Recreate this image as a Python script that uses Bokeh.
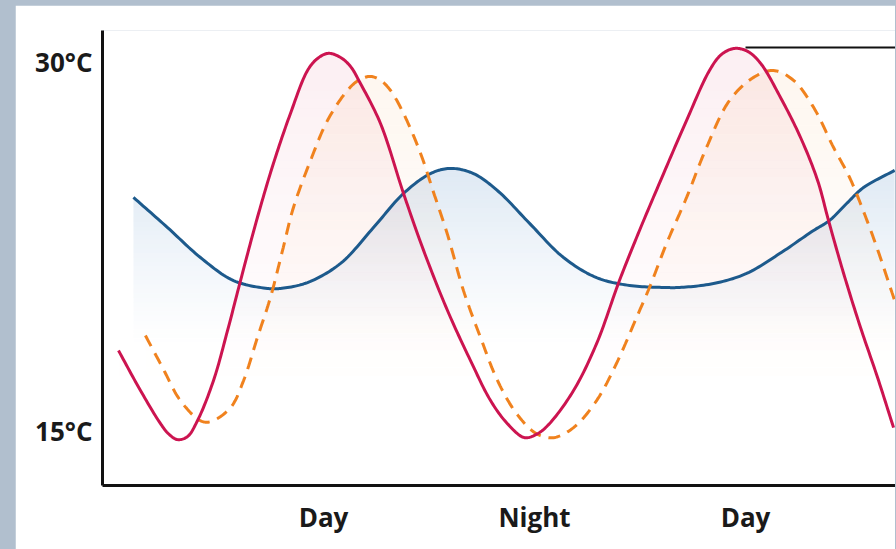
import numpy as np
from bokeh.plotting import figure
from bokeh.models import FixedTicker, Range1d, GlobalInlineStyleSheet
from bokeh.embed import file_html
from bokeh.resources import INLINE

# ---- data (hours of the cycle, temperature in degC) ----
red_h = [0.34, 1.59, 2.73, 3.18, 3.69, 4.26, 4.83, 5.74, 6.54, 7.28, 8.24, 9.15, 10.12, 11.09,
         11.66, 12.28, 12.97, 13.53, 14.10, 15.24, 16.55, 17.69, 19.05, 20.36, 21.50, 22.46,
         23.43, 24.17, 24.85, 26.22, 27.53, 28.83, 29.97, 31.34, 32.65, 33.95, 34.64, 35.38,
         36.12, 36.86, 37.99, 39.13, 40.10, 40.72, 41.58, 42.54, 43.51, 44.42]
red_T = [18.26, 16.63, 15.28, 14.87, 14.63, 14.75, 15.40, 17.03, 19.07, 21.11, 23.68, 25.88,
         27.92, 29.67, 30.16, 30.37, 30.20, 29.84, 29.14, 27.51, 24.66, 22.34, 19.89, 17.85,
         16.22, 15.28, 14.71, 14.87, 15.28, 16.63, 18.54, 21.11, 23.15, 25.47, 27.64, 29.67,
         30.33, 30.57, 30.45, 29.96, 28.57, 26.94, 25.19, 23.56, 21.40, 19.20, 17.16, 15.12]

orange_h = [1.87, 2.84, 3.86, 5.00, 5.57, 6.71, 7.45, 8.24, 8.98, 9.67, 10.29, 11.26, 12.23,
            13.36, 13.99, 14.67, 15.24, 15.81, 16.55, 17.52, 18.26, 19.05, 19.96, 20.93, 21.90,
            22.98, 24.11, 25.08, 26.22, 27.53, 28.66, 29.80, 30.54, 31.51, 32.65, 33.78, 35.09,
            36.46, 37.59, 38.73, 39.87, 41.01, 41.92, 42.71, 43.45, 44.48]
orange_T = [18.87, 17.57, 16.22, 15.40, 15.36, 15.93, 17.03, 18.79, 20.42, 22.34, 24.09, 26.00,
            27.64, 28.86, 29.27, 29.43, 29.27, 28.86, 27.92, 26.29, 24.70, 22.99, 20.70, 18.79,
            17.03, 15.69, 14.87, 14.71, 15.12, 16.22, 17.73, 19.60, 20.83, 22.62, 24.50, 26.53,
            28.45, 29.39, 29.67, 29.27, 28.17, 26.53, 25.31, 23.93, 22.50, 20.30]

blue_h = [1.19, 3.13, 5.00, 6.88, 8.81, 9.55, 11.09, 12.97, 14.84, 16.55, 18.08, 19.22, 20.53,
          21.95, 23.72, 25.65, 27.53, 29.40, 31.34, 32.25, 34.18, 36.06, 37.94, 39.87, 40.78,
          41.75, 42.71, 44.48]
blue_T = [24.50, 23.27, 22.05, 21.11, 20.79, 20.79, 21.03, 21.81, 23.27, 24.66, 25.47, 25.68,
          25.47, 24.74, 23.44, 22.05, 21.23, 20.91, 20.83, 20.83, 20.99, 21.40, 22.21, 23.15,
          23.56, 24.25, 24.90, 25.60]

# level line drawn from the second daytime maximum
peak_marker_h = [36.0, 44.53]
peak_marker_T = [30.61, 30.61]

x_ticks = [12, 24, 36]
x_labels = ["Day", "Night", "Day"]
y_ticks = [15, 30]
y_labels = ["15°C", "30°C"]

# ---- figure ----
p = figure(width=880, height=544,
           x_range=Range1d(-0.57, 44.53), y_range=Range1d(12.76, 31.30),
           output_backend="svg", toolbar_location=None,
           min_border_left=87, min_border_right=0, min_border_top=25, min_border_bottom=64)
p.stylesheets = [GlobalInlineStyleSheet(
    css="html,body{background:#b1bfce;margin:0;padding:0;overflow:hidden;}"
        "body{padding:5px 1px 0 15px;}")]
p.outline_line_color = None
p.grid.visible = False
p.background_fill_color = "white"
p.border_fill_color = "white"


def smooth_path(x, y, k=14, sx=17.6, sy=24.5):
    """Centripetal Catmull-Rom stroke through the read points (rendering only)."""
    P = np.column_stack([np.asarray(x, float) * sx, np.asarray(y, float) * sy])
    P = np.vstack([2 * P[0] - P[1], P, 2 * P[-1] - P[-2]])
    out = []
    for i in range(1, len(P) - 2):
        p0, p1, p2, p3 = P[i - 1], P[i], P[i + 1], P[i + 2]
        t0 = 0.0
        t1 = t0 + np.linalg.norm(p1 - p0) ** 0.5
        t2 = t1 + np.linalg.norm(p2 - p1) ** 0.5
        t3 = t2 + np.linalg.norm(p3 - p2) ** 0.5
        t = np.linspace(t1, t2, k, endpoint=False)[:, None]
        a1 = (t1 - t) / (t1 - t0) * p0 + (t - t0) / (t1 - t0) * p1
        a2 = (t2 - t) / (t2 - t1) * p1 + (t - t1) / (t2 - t1) * p2
        a3 = (t3 - t) / (t3 - t2) * p2 + (t - t2) / (t3 - t2) * p3
        b1 = (t2 - t) / (t2 - t0) * a1 + (t - t0) / (t2 - t0) * a2
        b2 = (t3 - t) / (t3 - t1) * a2 + (t - t1) / (t3 - t1) * a3
        out.append((t2 - t) / (t2 - t1) * b1 + (t - t1) / (t2 - t1) * b2)
    out.append(P[-2][None, :])
    C = np.vstack(out)
    return C[:, 0] / sx, C[:, 1] / sy


def gradient_fill(x, y, lo, hi, color, amax, n=40):
    edges = np.linspace(lo, hi, n + 1)
    for a, b in zip(edges[:-1], edges[1:]):
        y2 = np.clip(y, a, b)
        alpha = amax * (((a + b) / 2 - lo) / (hi - lo)) ** 1.2
        p.varea(x=x, y1=np.full_like(y, a), y2=y2, fill_color=color, fill_alpha=alpha)


bx, by = smooth_path(blue_h, blue_T)
rx, ry = smooth_path(red_h, red_T)
ox, oy = smooth_path(orange_h, orange_T)

gradient_fill(bx, by, 18.4, 25.7, "#3f7dbd", 0.17)
gradient_fill(rx, ry, 16.5, 30.6, "#d8305a", 0.08)
gradient_fill(ox, oy, 16.5, 30.6, "#f08a2a", 0.08)

p.line(peak_marker_h, peak_marker_T, line_color="#111111", line_width=2)
p.line(bx, by, line_color="#1d5a8c", line_width=3, line_join="round")
p.line(ox, oy, line_color="#f0821e", line_width=3, line_dash="12 8")
p.line(rx, ry, line_color="#cc1450", line_width=3, line_join="round")

for ax in (p.xaxis[0], p.yaxis[0]):
    ax.axis_line_color = "#111111"
    ax.axis_line_width = 3
    ax.major_tick_line_color = None
    ax.minor_tick_line_color = None
    ax.major_tick_out = 0
    ax.major_tick_in = 0
    ax.major_label_text_font = "Open Sans"
    ax.major_label_text_font_style = "bold"
    ax.major_label_text_color = "#1a1a1a"
    ax.major_label_text_font_size = "26px"

p.xaxis.ticker = FixedTicker(ticks=x_ticks)
p.xaxis.major_label_overrides = {t: l for t, l in zip(x_ticks, x_labels)}
p.xaxis.major_label_standoff = 13
p.yaxis.ticker = FixedTicker(ticks=y_ticks)
p.yaxis.major_label_overrides = {t: l for t, l in zip(y_ticks, y_labels)}
p.yaxis.major_label_standoff = 10

open("out.html", "w").write(file_html(p, INLINE))
